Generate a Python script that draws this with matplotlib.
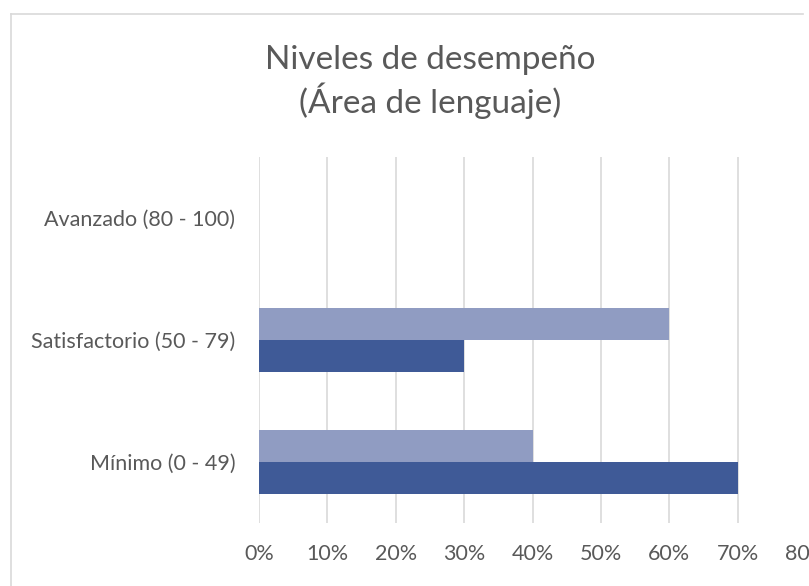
import matplotlib.pyplot as plt
from matplotlib.lines import Line2D
import numpy as np

categories = ["Mínimo (0 - 49)", "Satisfactorio (50 - 79)", "Avanzado (80 - 100)"]
serie_clara = [0.40, 0.60, 0.0]
serie_oscura = [0.70, 0.30, 0.0]
xticks = [0.0, 0.1, 0.2, 0.3, 0.4, 0.5, 0.6, 0.7, 0.8]
title = "Niveles de desempeño\n(Área de lenguaje)"

W, H = 809, 586
text_color = "#595959"
grid_color = "#D9D9D9"

plt.rcParams["font.family"] = ["Lato", "DejaVu Sans"]

fig = plt.figure(figsize=(W / 100, H / 100), dpi=100)
ax = fig.add_axes([259 / W, (H - 523) / H, (806 - 259) / W, (523 - 157) / H])

y = np.arange(len(categories))
h = 0.262
ax.barh(y + h / 2, serie_clara, height=h, color="#909CC2")
ax.barh(y - h / 2, serie_oscura, height=h, color="#3F5A97")

ax.set_xlim(0, 0.8)
ax.set_ylim(-0.5, len(categories) - 0.5)
ax.set_xticks(xticks)
ax.set_xticklabels([f"{int(round(v * 100))}%" for v in xticks])
ax.set_yticks(y)
ax.set_yticklabels(categories)

ax.grid(axis="x", color=grid_color, linewidth=1.2)
ax.set_axisbelow(True)
ax.get_xgridlines()[-1].set_visible(False)
for s in ax.spines.values():
    s.set_visible(False)
ax.tick_params(axis="x", length=0, pad=15, labelsize=15.5, labelcolor=text_color)
ax.tick_params(axis="y", length=0, pad=17, labelsize=15.5, labelcolor=text_color)

fig.text(430 / W, (H - 82) / H, title, ha="center", va="center",
         fontsize=24, color=text_color, linespacing=1.25)

# chart area border (cut off at right and bottom)
fig.add_artist(Line2D([10.5 / W, 10.5 / W], [0, (H - 13.5) / H],
                      transform=fig.transFigure, color=grid_color, linewidth=1.2))
fig.add_artist(Line2D([10.5 / W, 803 / W], [(H - 13.5) / H, (H - 13.5) / H],
                      transform=fig.transFigure, color=grid_color, linewidth=1.2))

fig.savefig("out.png", dpi=100)
